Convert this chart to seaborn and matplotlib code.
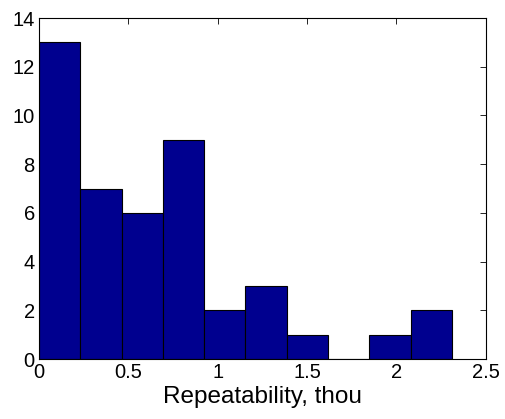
import numpy as np
import pandas as pd
import matplotlib
matplotlib.use("Agg")
import matplotlib.pyplot as plt
import seaborn as sns

# Data
bin_edges = [0.0, 0.231, 0.462, 0.693, 0.924, 1.155, 1.386, 1.617, 1.848, 2.079, 2.31]
counts = [13, 7, 6, 9, 2, 3, 1, 0, 1, 2]
x_ticks = [0, 0.5, 1, 1.5, 2, 2.5]
x_tick_labels = ["0", "0.5", "1", "1.5", "2", "2.5"]
y_ticks = [0, 2, 4, 6, 8, 10, 12, 14]
x_label = "Repeatability, thou"

sns.set_style("white")
plt.rcParams['font.family'] = ['Liberation Sans', 'DejaVu Sans']

centers = [(bin_edges[i] + bin_edges[i + 1]) / 2 for i in range(len(counts))]
df = pd.DataFrame({"value": centers, "count": counts})

fig = plt.figure(figsize=(5.06, 4.19), dpi=100)
ax = fig.add_axes([0.077, 0.143, 0.883, 0.814])

sns.histplot(data=df, x="value", weights="count", bins=bin_edges, ax=ax,
             color="#00008F", edgecolor="black", linewidth=0.8, alpha=1.0)

ax.set_xlim(0, 2.5)
ax.set_ylim(0, 14)
ax.set_xticks(x_ticks)
ax.set_xticklabels(x_tick_labels)
ax.set_yticks(y_ticks)
ax.set_xlabel(x_label, fontsize=17.5, labelpad=3, color="black")
ax.set_ylabel("")
ax.tick_params(axis="both", which="both", direction="in", length=4, width=0.6,
               top=True, right=True, bottom=True, left=True, labelsize=14.5, pad=3,
               colors="black")
for s in ax.spines.values():
    s.set_visible(True)
    s.set_color("black")
    s.set_linewidth(0.8)

fig.savefig("out.png", dpi=100, facecolor="white")
